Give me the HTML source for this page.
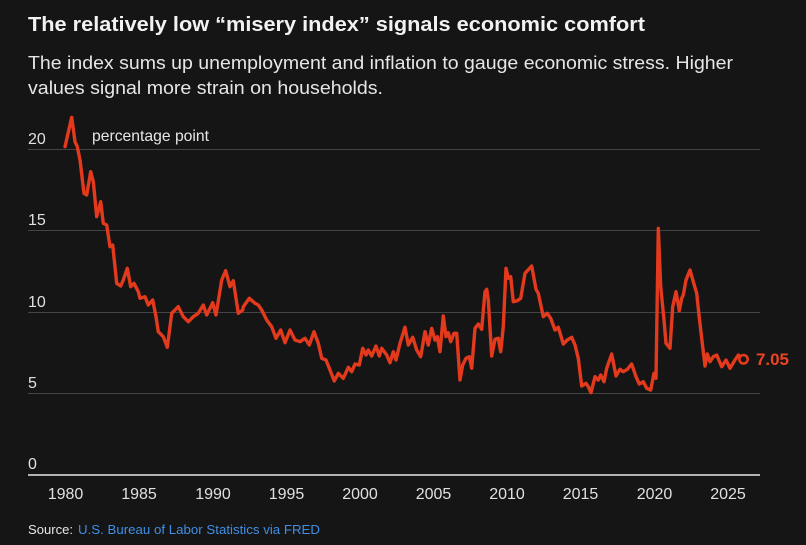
<!DOCTYPE html>
<html>
<head>
<meta charset="utf-8">
<style>
  html, body { margin:0; padding:0; background:#151515; }
  body { width:806px; height:545px; overflow:hidden; }
  svg { display:block; }
  text { font-family: "Liberation Sans", "DejaVu Sans", sans-serif; }
</style>
</head>
<body>
<svg width="806" height="545" viewBox="0 0 806 545" xmlns="http://www.w3.org/2000/svg">
  <rect x="0" y="0" width="806" height="545" fill="#151515"/>

  <!-- Title -->
  <text x="28" y="31" font-size="20" font-weight="bold" fill="#f2f2f2" textLength="617" lengthAdjust="spacingAndGlyphs">The relatively low “misery index” signals economic comfort</text>
  <!-- Subtitle -->
  <text x="28" y="69" font-size="18" fill="#e6e6e6" textLength="705" lengthAdjust="spacingAndGlyphs">The index sums up unemployment and inflation to gauge economic stress. Higher</text>
  <text x="28" y="94" font-size="18" fill="#e6e6e6" textLength="355" lengthAdjust="spacingAndGlyphs">values signal more strain on households.</text>

  <!-- Gridlines -->
  <g stroke="#444444" stroke-width="1">
    <line x1="28" y1="149.5" x2="760" y2="149.5"/>
    <line x1="28" y1="230.5" x2="760" y2="230.5"/>
    <line x1="28" y1="312.5" x2="760" y2="312.5"/>
    <line x1="28" y1="393.5" x2="760" y2="393.5"/>
  </g>
  <line x1="28" y1="475" x2="760" y2="475" stroke="#e8e8e8" stroke-width="1.6"/>

  <!-- Y labels -->
  <g font-size="16" fill="#e0e0e0">
    <text x="28" y="144">20</text>
    <text x="28" y="225">15</text>
    <text x="28" y="307">10</text>
    <text x="28" y="388">5</text>
    <text x="28" y="469">0</text>
  </g>
  <text x="92" y="141" font-size="15.7" fill="#e6e6e6" textLength="117" lengthAdjust="spacingAndGlyphs">percentage point</text>

  <!-- X labels -->
  <g font-size="16" fill="#e0e0e0" text-anchor="middle">
    <text x="65.5" y="499">1980</text>
    <text x="139" y="499">1985</text>
    <text x="213" y="499">1990</text>
    <text x="286.5" y="499">1995</text>
    <text x="360" y="499">2000</text>
    <text x="433.5" y="499">2005</text>
    <text x="507" y="499">2010</text>
    <text x="580.5" y="499">2015</text>
    <text x="654.5" y="499">2020</text>
    <text x="728" y="499">2025</text>
  </g>

  <!-- Series -->
  <polyline fill="none" stroke="#e3391c" stroke-width="3.4" stroke-linejoin="round" stroke-linecap="round" points="
65,146.7 71.7,117.3 75,141.7 77.3,146.7 80,160 84,193.3 86.7,195 90.7,171.7 93.3,181.7 96.7,216.7 100.7,201.7 103.3,223.3 106.7,225 110,246.7 112.7,245 116.7,283.3 120.7,286 123.3,280 127.3,268.3 130.7,286.7 134,283.3 138.3,291.7 140,298.3 145,296.7 148.3,305 152.7,300 156,316.7 158.3,331.7 163.3,336.7 167.3,347.3 171.7,313.3 178.3,306.7 183.3,316.7 188.3,321.7 193.3,316.7 198.3,313.3 203.3,305 206.7,315 212.7,302.7 216,315 221.7,280 225.7,270.7 230,286.7 233.3,280.7 238.3,313.3 242.7,310 243.3,306.7 249.3,298.3 255,303.3 258.3,305 261.7,310 266.7,320 271.7,326.7 276,338.3 280.7,330 285,342.7 290,330 295,340 300,341.7 305,338.3 309.3,345 314,331.7 318.3,343.3 321.7,358.3 326,360 330,370 334.3,381 338.3,373.3 343.3,378.3 348.3,367.3 351.7,371.7 355,364 359.3,365 362.7,348.3 366,355 368.3,350 371.7,356 376,346 379.3,356 381.7,348.3 386.7,355 390,362.7 393.3,351.7 396,360 400,343.3 405,327.3 408.3,345 412.7,337.3 416.7,350 420.7,356.7 425,331.7 428.3,345 431.7,328.3 435,340 437.3,336.7 440,351.7 443.3,316 446,336.7 448.3,332.7 450.7,341.7 454,333.3 456.7,333.3 460,380 462.7,365 466,358.3 469.3,356.7 471.7,368.3 475,328.3 478.3,324 481.7,329.3 485,291.7 486.7,289.3 488.3,300 491.7,356 495,339.3 498.3,338.3 500.7,351.7 503.3,326.7 506,268.3 508.3,278.3 510.7,276.7 513.3,301.7 517.3,300.7 520.7,298.3 525,273.3 531.7,266 536,289.3 538.3,293.3 543.3,316.7 547.3,313.3 550.7,318.3 555,330 558.3,327.3 563.3,344 567.3,340 571.7,337.3 575,345 578.3,358.3 581.7,386 586,383.3 588.3,386.7 591,392.7 595,376.7 598.3,380 600.7,375 604,381.7 606.7,368.3 611.7,354 616,376 620,369.3 623.3,371.7 627.3,369.3 631.7,364 636,376.7 639.3,384 643.3,381.7 646.7,388.3 650.7,390 654,373.3 656,378.3 658.3,228.3 660.7,286.7 664,320 666,343.3 670,348.3 672.7,306.7 676,291.7 679.3,310.7 681.7,298.3 683.3,295 686,280 690,270 693.3,281.7 696.7,293.3 699,315 701.7,338.3 705,366 707.3,354 710,361.7 713.3,356.7 716.7,355 721.7,366.7 726,360 730,368.3 735,360 738.3,355 742.7,359.3"/>

  <!-- End marker -->
  <circle cx="743.5" cy="359.3" r="4.2" fill="#151515" stroke="#e3391c" stroke-width="2.6"/>
  <text x="756" y="365" font-size="16.5" font-weight="bold" fill="#ec4422" textLength="33" lengthAdjust="spacingAndGlyphs">7.05</text>

  <!-- Source -->
  <text x="28" y="534" font-size="13" fill="#e6e6e6" textLength="45" lengthAdjust="spacingAndGlyphs">Source:</text>
  <text x="78" y="534" font-size="13" fill="#3f8fe6" textLength="242" lengthAdjust="spacingAndGlyphs">U.S. Bureau of Labor Statistics via FRED</text>
</svg>
</body>
</html>
